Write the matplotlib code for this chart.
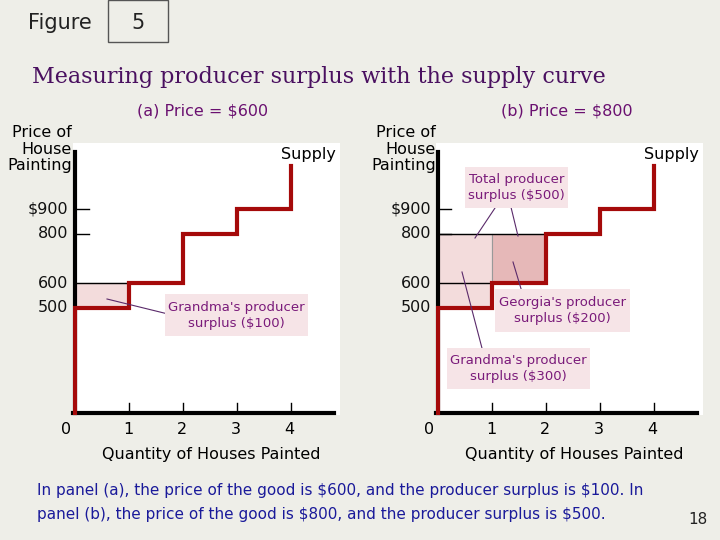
import matplotlib.pyplot as plt
from matplotlib.patches import Rectangle

plt.rcParams['text.usetex'] = False
plt.rcParams['text.parse_math'] = False

# supply schedule: seller i sells house i at price[i]
quantity = [0, 1, 2, 3, 4]
price = [500, 600, 800, 900]
top_price = 1075
price_ticks = [500, 600, 800, 900]
price_labels = ['500', '600', '800', '$900']
qty_ticks = [1, 2, 3, 4]

red = '#a50a0a'
purple = '#7a1a7a'
box_fc = '#f6e4e7'

fig = plt.figure(figsize=(7.2, 5.4), dpi=100)
fig.patch.set_facecolor('#eeeee8')

# overlay in pixel coordinates for slide furniture
bg = fig.add_axes([0, 0, 1, 1], zorder=0)
bg.set_xlim(0, 720)
bg.set_ylim(540, 0)
bg.axis('off')
bg.add_patch(Rectangle((108, 0), 60, 42, fill=False, ec='#555555', lw=1))
bg.text(60, 23, 'Figure', fontsize=15, ha='center', va='center', color='#222222')
bg.text(138, 23, '5', fontsize=15, ha='center', va='center', color='#222222')
bg.text(32, 77, 'Measuring producer surplus with the supply curve', fontsize=16,
        va='center', family='DejaVu Serif', color='#4a1060')
bg.text(37, 491, 'In panel (a), the price of the good is $600, and the producer surplus is $100. In',
        fontsize=11, va='center', color='#1a1a9a')
bg.text(37, 514, 'panel (b), the price of the good is $800, and the producer surplus is $500.',
        fontsize=11, va='center', color='#1a1a9a')
bg.text(698, 520, '18', fontsize=11, ha='center', va='center', color='#222222')

def panel(x0, title, title_x, pmarket):
    # px geometry: y axis at x0, unit 54px; price 500 at y=308, 24.75px per 100
    left, right, top, bottom = x0 - 2, x0 + 265, 143, 415
    ax = fig.add_axes([left / 720, 1 - bottom / 540, (right - left) / 720, (bottom - top) / 540], zorder=1)
    ax.set_xlim(-2 / 54, 265 / 54)
    ax.set_ylim(500 - (bottom - 308) / 0.2475, 500 + (308 - top) / 0.2475)
    ax.set_facecolor('white')
    for s in ax.spines.values():
        s.set_visible(False)
    ax.set_xticks([])
    ax.set_yticks([])
    y0 = ax.get_ylim()[0] + 8
    ax.plot([0, 0], [y0, 1130], color='black', lw=3, clip_on=False, zorder=2)
    ax.plot([-0.03, 4.8], [y0, y0], color='black', lw=3, clip_on=False, zorder=2)
    for q in qty_ticks:
        ax.plot([q, q], [y0, y0 + 40], color='black', lw=1)
    for p in [800, 900]:
        ax.plot([0, 0.25], [p, p], color='black', lw=1)

    # surplus areas for sellers with cost below market price
    for i, p in enumerate(price):
        if p < pmarket:
            fc = '#f3dcdc' if i == 0 else '#e6b8b8'
            ax.add_patch(Rectangle((quantity[i], p), 1, pmarket - p, fc=fc, ec='#999999', lw=0.8, zorder=1))
    ax.plot([0, 1], [600, 600], color='black', lw=1, zorder=1)
    if pmarket == 800:
        ax.plot([0, 2], [800, 800], color='black', lw=1, zorder=1)

    xs, ys = [0], [y0]
    for i, p in enumerate(price):
        xs += [quantity[i], quantity[i + 1]]
        ys += [p, p]
    xs.append(quantity[-1])
    ys.append(top_price)
    ax.plot(xs, ys, color=red, lw=3, solid_joinstyle='miter', zorder=3)

    # labels in pixel space
    for p, lab in zip(price_ticks, price_labels):
        py = 308 - (p - 500) * 0.2475
        bg.text(x0 - 7, py, lab, fontsize=11.5, ha='right', va='center', color='#111111')
    bg.text(x0 - 9, 430, '0', fontsize=11.5, ha='center', va='center')
    for q in qty_ticks:
        bg.text(x0 + q * 53.7, 430, str(q), fontsize=11.5, ha='center', va='center')
    bg.text(x0 + 136, 454, 'Quantity of Houses Painted', fontsize=11.5, ha='center', va='center')
    bg.text(title_x, 111, title, fontsize=11.5, ha='center', va='center', color='#6a1070')
    bg.text(x0 + 233, 154, 'Supply', fontsize=11.5, ha='center', va='center')
    return ax

axa = panel(75, '(a) Price = $600', 203, 600)
bg.text(72, 149, 'Price of\nHouse\nPainting', fontsize=11.5, ha='right', va='center', linespacing=1.15)

axb = panel(438, '(b) Price = $800', 567, 800)
bg.text(436, 149, 'Price of\nHouse\nPainting', fontsize=11.5, ha='right', va='center', linespacing=1.15)

def note(x1, y1, x2, y2, text, zorder=4):
    bg.add_patch(Rectangle((x1, y1), x2 - x1, y2 - y1, fc=box_fc, ec='none', zorder=zorder))
    bg.text((x1 + x2) / 2, (y1 + y2) / 2, text, fontsize=9.5, ha='center', va='center',
            color=purple, linespacing=1.3, zorder=zorder + 1)

bg.set_zorder(2)
bg.patch.set_alpha(0)
note(165, 294, 308, 336, "Grandma's producer\nsurplus ($100)")
bg.plot([107, 168], [299, 314], color='#5a2a6a', lw=0.8)
note(465, 167, 568, 208, 'Total producer\nsurplus ($500)')
bg.plot([475, 507], [238, 190], color='#5a2a6a', lw=0.8)
bg.plot([518, 509], [236, 199], color='#5a2a6a', lw=0.8)
note(495, 289, 630, 332, "Georgia's producer\nsurplus ($200)")
bg.plot([513, 522], [262, 292], color='#5a2a6a', lw=0.8)
note(447, 348, 590, 389, "Grandma's producer\nsurplus ($300)")
bg.plot([462, 483], [272, 352], color='#5a2a6a', lw=0.8)

fig.savefig('out.png', dpi=100, facecolor=fig.get_facecolor())
